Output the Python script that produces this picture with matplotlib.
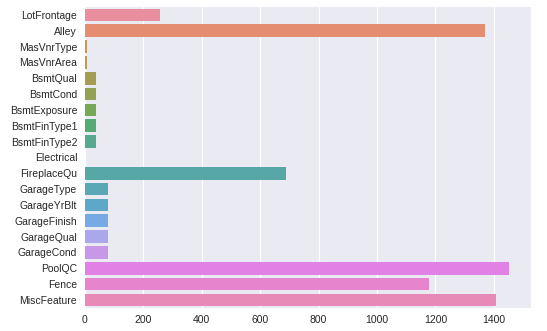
import matplotlib
matplotlib.use("Agg")
import matplotlib.pyplot as plt
import seaborn as sns
import numpy as np

# ── Missing value counts per column ─────────────────────────────────────────
columns = [
    "LotFrontage", "Alley", "MasVnrType", "MasVnrArea", "BsmtQual",
    "BsmtCond", "BsmtExposure", "BsmtFinType1", "BsmtFinType2", "Electrical",
    "FireplaceQu", "GarageType", "GarageYrBlt", "GarageFinish", "GarageQual",
    "GarageCond", "PoolQC", "Fence", "MiscFeature",
]
missing = [259, 1369, 8, 8, 37, 37, 38, 37, 38, 1,
           690, 81, 81, 81, 81, 81, 1453, 1179, 1406]

sns.set_style("darkgrid")
plt.rcParams["font.family"] = ["Liberation Sans", "DejaVu Sans"]

# muted husl colours, like the old seaborn default look
pal = [sns.desaturate(c, 0.75) for c in sns.color_palette("husl", len(columns))]
pal = [tuple(np.array(c) * 0.9 + 0.1) for c in pal]

fig = plt.figure(figsize=(5.47, 3.31), dpi=100)
ax = fig.add_axes([0.155, 0.07, 0.815, 0.909])
sns.barplot(x=missing, y=columns, hue=columns, legend=False,
            palette=pal, saturation=1, linewidth=0, ax=ax)
ax.set_xlim(0, max(missing) * 1.05)
ax.tick_params(labelsize=7.5, pad=2)
for side in ax.spines.values():
    side.set_visible(False)

fig.savefig("out.png", dpi=100)
